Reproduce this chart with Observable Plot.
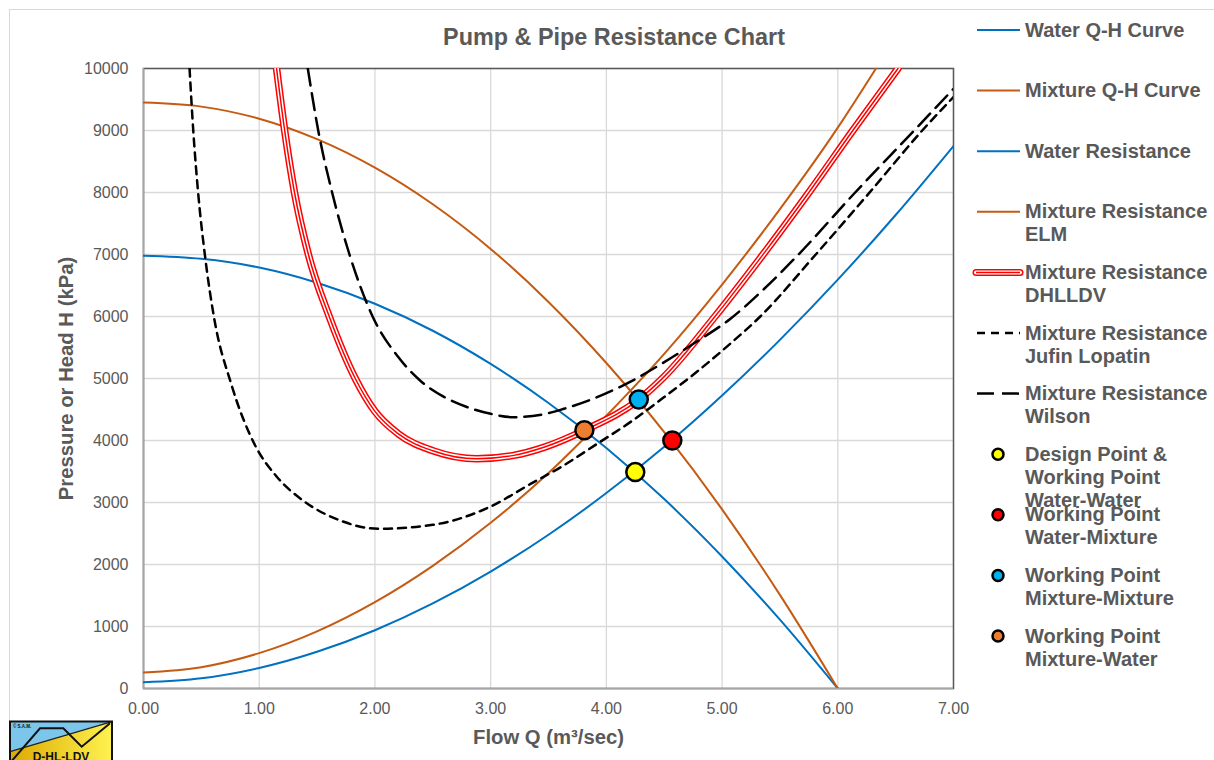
<!DOCTYPE html>
<html><head><meta charset="utf-8">
<script src="https://cdn.jsdelivr.net/npm/d3@7"></script>
<script src="https://cdn.jsdelivr.net/npm/@observablehq/plot@0.6"></script>
<style>
html,body{margin:0;padding:0;background:#fff;overflow:hidden;}
#wrap{position:relative;width:1214px;height:760px;overflow:hidden;font-family:"Liberation Sans",Arial,sans-serif;}
#border{position:absolute;left:9px;top:9px;width:1400px;height:900px;border:1px solid #d9d9d9;}
#chart{position:absolute;left:0;top:0;}
#title{position:absolute;left:364px;width:500px;top:23px;text-align:center;font-weight:bold;font-size:23.4px;line-height:28px;color:#595959;}
.leg{position:absolute;left:1025px;font-weight:bold;font-size:20px;line-height:23px;color:#595959;white-space:pre;}
#legsw{position:absolute;left:960px;top:0;}
#logo{position:absolute;left:9px;top:720px;}
</style></head><body>
<div id="wrap">
  <div id="border"></div>
  <div id="chart"></div>
  <div id="title">Pump &amp; Pipe Resistance Chart</div>
  <svg id="legsw" width="90" height="700"></svg>
  <div id="legend"></div>
  <svg id="logo" width="106" height="41">
    <defs><linearGradient id="lgy" x1="0" x2="1" y1="0" y2="0"><stop offset="0" stop-color="#dcaa00"/><stop offset="1" stop-color="#fff250"/></linearGradient></defs>
    <rect x="1" y="1.5" width="102" height="45" fill="url(#lgy)"/>
    <polygon points="1,1.5 103,1.5 103,1.7 1,31.7" fill="#7cc6ec"/>
    <line x1="1" y1="31.7" x2="103" y2="1.7" stroke="#222" stroke-width="1.2"/>
    <polyline points="2.7,41 31,8.3 54.3,8.3 72.7,26.7 101,3.3" fill="none" stroke="#111" stroke-width="2"/>
    <rect x="1" y="1.5" width="102" height="45" fill="none" stroke="#111" stroke-width="2"/>
    <text x="4" y="7.5" font-size="4.5" font-weight="bold" fill="#111" font-family="Liberation Sans, Arial, sans-serif">© S.A.M.</text>
    <text x="52" y="40.5" text-anchor="middle" font-size="12" font-weight="bold" fill="#111" font-family="Liberation Sans, Arial, sans-serif">D-HL-LDV</text>
  </svg>
</div>
<script>
// ---- data ----
const xTicks = [0, 1, 2, 3, 4, 5, 6, 7];
const yTicks = [0, 1000, 2000, 3000, 4000, 5000, 6000, 7000, 8000, 9000, 10000];
const titleText = "Pump & Pipe Resistance Chart";
const xLabel = "Flow Q (m³/sec)";
const yLabel = "Pressure or Head H (kPa)";

const pumpQ = [0, 0.5, 1, 1.5, 2, 2.5, 3, 3.5, 4, 4.5, 5, 5.5, 6];
const waterQH = [6980, 6930, 6790, 6545, 6205, 5770, 5235, 4605, 3880, 3055, 2130, 1110, 0];
const mixtureQH = [9450, 9385, 9190, 8860, 8400, 7810, 7090, 6235, 5250, 4135, 2890, 1510, 0];

const resQ = [0, 0.5, 1, 1.5, 2, 2.5, 3, 3.5, 4, 4.5, 5, 5.5, 6, 6.5, 7];
const waterRes = [100, 164, 331, 592, 940, 1372, 1886, 2480, 3152, 3900, 4725, 5623, 6594, 7637, 8750];

const elmQ = [0, 0.5, 1, 1.5, 2, 2.5, 3, 3.5, 4, 4.5, 5, 5.5, 6, 6.33];
const elmH = [258, 344, 570, 921, 1392, 1977, 2672, 3476, 4400, 5398, 6516, 7731, 9046, 10000];

const dhlldvQ = [1.15, 1.22, 1.305, 1.425, 1.605, 1.83, 2.0, 2.2, 2.5, 2.88, 3.2, 3.46, 3.81, 4.28, 4.5, 4.93, 5.35, 5.75, 6.13, 6.52];
const dhlldvH = [10000, 9000, 8000, 7000, 6000, 5000, 4470, 4110, 3835, 3705, 3760, 3890, 4165, 4660, 5030, 5980, 6990, 8000, 9000, 10000];

const jufinQ = [0.398, 0.43, 0.472, 0.53, 0.608, 0.76, 0.965, 1.15, 1.38, 1.7, 2.03, 2.5, 3.0, 3.345, 3.633, 3.92, 4.21, 4.5, 4.79, 5.07, 5.33, 5.8, 6.27, 6.73, 7.0];
const jufinH = [10000, 9000, 8000, 7000, 6000, 4900, 3920, 3420, 3030, 2710, 2575, 2640, 2935, 3300, 3600, 3946, 4300, 4700, 5120, 5560, 6000, 6980, 7990, 9000, 9540];

const wilsonQ = [1.42, 1.51, 1.63, 1.78, 1.98, 2.2, 2.39, 2.6, 2.8, 3.0, 3.2, 3.45, 3.633, 3.92, 4.209, 4.497, 4.785, 5.07, 5.36, 5.65, 6.14, 6.66, 7.0];
const wilsonH = [10000, 9000, 8000, 7000, 6000, 5350, 4968, 4700, 4537, 4430, 4376, 4420, 4511, 4699, 4950, 5260, 5600, 5960, 6440, 6980, 7980, 9000, 9672];

const pointNames = ["Design Point & Working Point Water-Water", "Working Point Water-Mixture", "Working Point Mixture-Mixture", "Working Point Mixture-Water"];
const pointQ = [4.25, 4.57, 4.28, 3.81];
const pointH = [3490, 4000, 4660, 4165];
const pointColors = ["#FFFF00", "#FF0000", "#00B0F0", "#ED7D31"];

const legendLabels = ["Water Q-H Curve", "Mixture Q-H Curve", "Water Resistance", "Mixture Resistance\nELM", "Mixture Resistance\nDHLLDV", "Mixture Resistance\nJufin Lopatin", "Mixture Resistance\nWilson", "Design Point &\nWorking Point\nWater-Water", "Working Point\nWater-Mixture", "Working Point\nMixture-Mixture", "Working Point\nMixture-Water"];

// ---- styles ----
const BLUE = "#0070C0", ORANGE = "#C55A11", RED = "#FF0000";
const rows = (qs, hs) => qs.map((q, i) => ({q, h: hs[i]}));
const line = (data, stroke, w, extra = {}) => Plot.line(data, {x: "q", y: "h", stroke, strokeWidth: w, curve: "monotone-x", clip: true, ...extra});

const dhl = rows(dhlldvQ, dhlldvH);
const points = pointQ.map((q, i) => ({q, h: pointH[i], color: pointColors[i], name: pointNames[i]}));

const chart = Plot.plot({
  width: 1214, height: 760,
  marginLeft: 143, marginRight: 261, marginTop: 68, marginBottom: 72,
  style: {fontFamily: '"Liberation Sans", Arial, sans-serif', fontSize: "16px", color: "#595959", background: "transparent", overflow: "visible"},
  x: {domain: [0, 7]},
  y: {domain: [0, 10000]},
  color: {type: "identity"},
  marks: [
    Plot.gridX(xTicks, {stroke: "#d9d9d9", strokeOpacity: 1, strokeWidth: 1.3}),
    Plot.gridY(yTicks, {stroke: "#d9d9d9", strokeOpacity: 1, strokeWidth: 1.3}),
    Plot.frame({stroke: "#595959", strokeWidth: 1.5}),
    Plot.ruleX([0], {stroke: "#a6a6a6", strokeWidth: 1.5}),
    Plot.ruleY([0], {stroke: "#a6a6a6", strokeWidth: 1.5}),
    Plot.axisX(xTicks, {tickSize: 0, tickPadding: 14, tickFormat: d => d.toFixed(2), label: null, fontSize: 16, fill: "#595959"}),
    Plot.axisY(yTicks, {tickSize: 0, tickPadding: 15, tickFormat: d => String(d), label: null, fontSize: 16, fill: "#595959"}),
    Plot.text([xLabel], {text: d => d, frameAnchor: "bottom", textAnchor: "middle", lineAnchor: "middle", dy: 49, fontWeight: "bold", fontSize: 20.3, fill: "#595959"}),
    Plot.text([yLabel], {text: d => d, frameAnchor: "left", textAnchor: "middle", lineAnchor: "middle", rotate: -90, dx: -77, fontWeight: "bold", fontSize: 20.3, fill: "#595959"}),
    line(rows(pumpQ, waterQH), BLUE, 2),
    line(rows(pumpQ, mixtureQH), ORANGE, 2),
    line(rows(resQ, waterRes), BLUE, 2),
    line(rows(elmQ, elmH), ORANGE, 2),
    line(dhl, RED, 7.5),
    line(dhl, "#ffffff", 4.5),
    line(dhl, RED, 1.5),
    line(rows(jufinQ, jufinH), "#000", 2.5, {strokeDasharray: "8,6"}),
    line(rows(wilsonQ, wilsonH), "#000", 2.5, {strokeDasharray: "17,8"}),
    Plot.dot(points, {x: "q", y: "h", r: 9, fill: d => d.color, stroke: "#000", strokeWidth: 2.5})
  ]
});
document.getElementById("chart").appendChild(chart);
document.getElementById("title").textContent = titleText;

// ---- legend ----
const legTop = 30, legStep = 60.6;
const sw = d3.select("#legsw");
const legendKinds = [
  {type: "line", stroke: BLUE, w: 2},
  {type: "line", stroke: ORANGE, w: 2},
  {type: "line", stroke: BLUE, w: 2},
  {type: "line", stroke: ORANGE, w: 2},
  {type: "dhl"},
  {type: "line", stroke: "#000", w: 2.5, dash: "8,6"},
  {type: "line", stroke: "#000", w: 2.5, dash: "17,8"},
  {type: "dot", fill: pointColors[0]},
  {type: "dot", fill: pointColors[1]},
  {type: "dot", fill: pointColors[2]},
  {type: "dot", fill: pointColors[3]}
];
const leg = document.getElementById("legend");
legendLabels.forEach((lab, i) => {
  const cy = legTop + i * legStep;
  const k = legendKinds[i];
  if (k.type === "line") {
    sw.append("line").attr("x1", 17).attr("x2", 60).attr("y1", cy).attr("y2", cy)
      .attr("stroke", k.stroke).attr("stroke-width", k.w).attr("stroke-dasharray", k.dash || null);
  } else if (k.type === "dhl") {
    sw.append("line").attr("x1", 16).attr("x2", 60).attr("y1", cy).attr("y2", cy).attr("stroke", RED).attr("stroke-width", 7).attr("stroke-linecap", "round");
    sw.append("line").attr("x1", 16).attr("x2", 60).attr("y1", cy).attr("y2", cy).attr("stroke", "#fff").attr("stroke-width", 4).attr("stroke-linecap", "round");
    sw.append("line").attr("x1", 16).attr("x2", 60).attr("y1", cy).attr("y2", cy).attr("stroke", RED).attr("stroke-width", 1.5);
  } else {
    sw.append("circle").attr("cx", 38).attr("cy", cy).attr("r", 5.5).attr("fill", k.fill).attr("stroke", "#000").attr("stroke-width", 2.5);
  }
  const div = document.createElement("div");
  div.className = "leg";
  div.style.top = (cy - 11.5) + "px";
  div.textContent = lab;
  leg.appendChild(div);
});
</script>
</body></html>
